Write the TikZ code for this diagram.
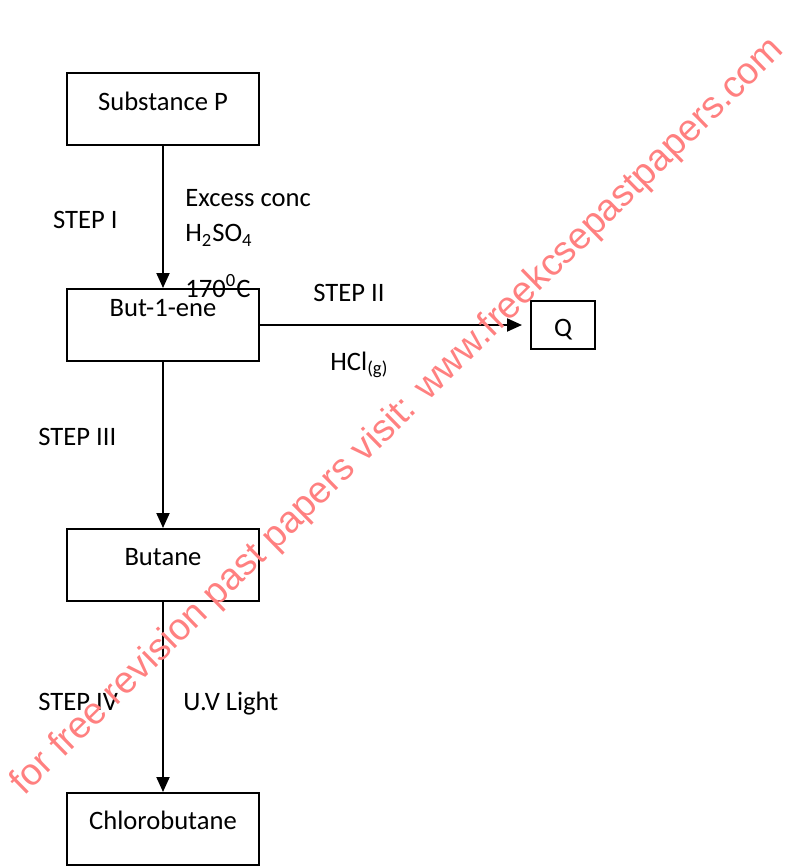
\documentclass[tikz,border=0pt]{standalone}
\usepackage{fontspec}
\setmainfont{Carlito}
\newfontfamily\wmfont{Liberation Sans}
\usetikzlibrary{positioning,arrows.meta}
\definecolor{wmred}{HTML}{FF8080}
\tikzset{
  box/.style ={rectangle, draw=black, line width=1pt, minimum width=96pt,
               minimum height=36pt, inner sep=0pt, text height=10pt, text depth=10pt,
               font=\fontsize{13.3}{16}\selectfont},
  qbox/.style={box, minimum width=32pt, minimum height=24pt, text height=11pt, text depth=0pt},
  fl/.style  ={-{Triangle[length=7.5pt,width=6.5pt]}, line width=1pt},
  lbl/.style ={anchor=base west, inner sep=0pt, font=\fontsize{13.3}{16}\selectfont},
  wm/.style  ={anchor=base west, inner sep=0pt, text=wmred, rotate=44.4,
               font=\wmfont\fontsize{18.8}{20}\selectfont}
}
\begin{document}
\begin{tikzpicture}[x=0.5pt, y=-0.5pt]
  \useasboundingbox (0,0) rectangle (802,867);
  \node[box,text depth=9pt] (sub) at (163,109) {Substance P};
  \node[box,text depth=18.3pt,below=71pt of sub] (ene) {But-1-ene};
  \node[box,below=83pt of ene] (ane) {Butane};
  \node[box,below=95pt of ane] (chl) {Chlorobutane};
  \node[qbox,right=135pt of ene] (q) {Q};
  \draw[fl] (sub) -- (ene);
  \draw[fl] (ene) -- (ane);
  \draw[fl] (ane) -- (chl);
  \draw[fl,shorten >=4pt] (ene) -- (q);
  \node[lbl] (s1) at (52.7,228.3) {STEP I};
  \node[lbl] (r1) at (185,206.7) {Excess conc};
  \node[lbl] (r2) at (185,241.7) {H\textsubscript{2}SO\textsubscript{4}};
  \node[lbl] (r3) at (185,297) {170\textsuperscript{0}C};
  \node[lbl] (s2) at (313,301.7) {STEP II};
  \node[lbl] (r4) at (330,370) {HCl\textsubscript{(g)}};
  \node[lbl] (s3) at (38,445.7) {STEP III};
  \node[lbl] (s4) at (38,710) {STEP IV};
  \node[lbl] (r5) at (183,710) {U.V Light};
  \node[wm] (wmark) at (24,797) {for free revision past papers visit: www.freekcsepastpapers.com};
\end{tikzpicture}
\end{document}
